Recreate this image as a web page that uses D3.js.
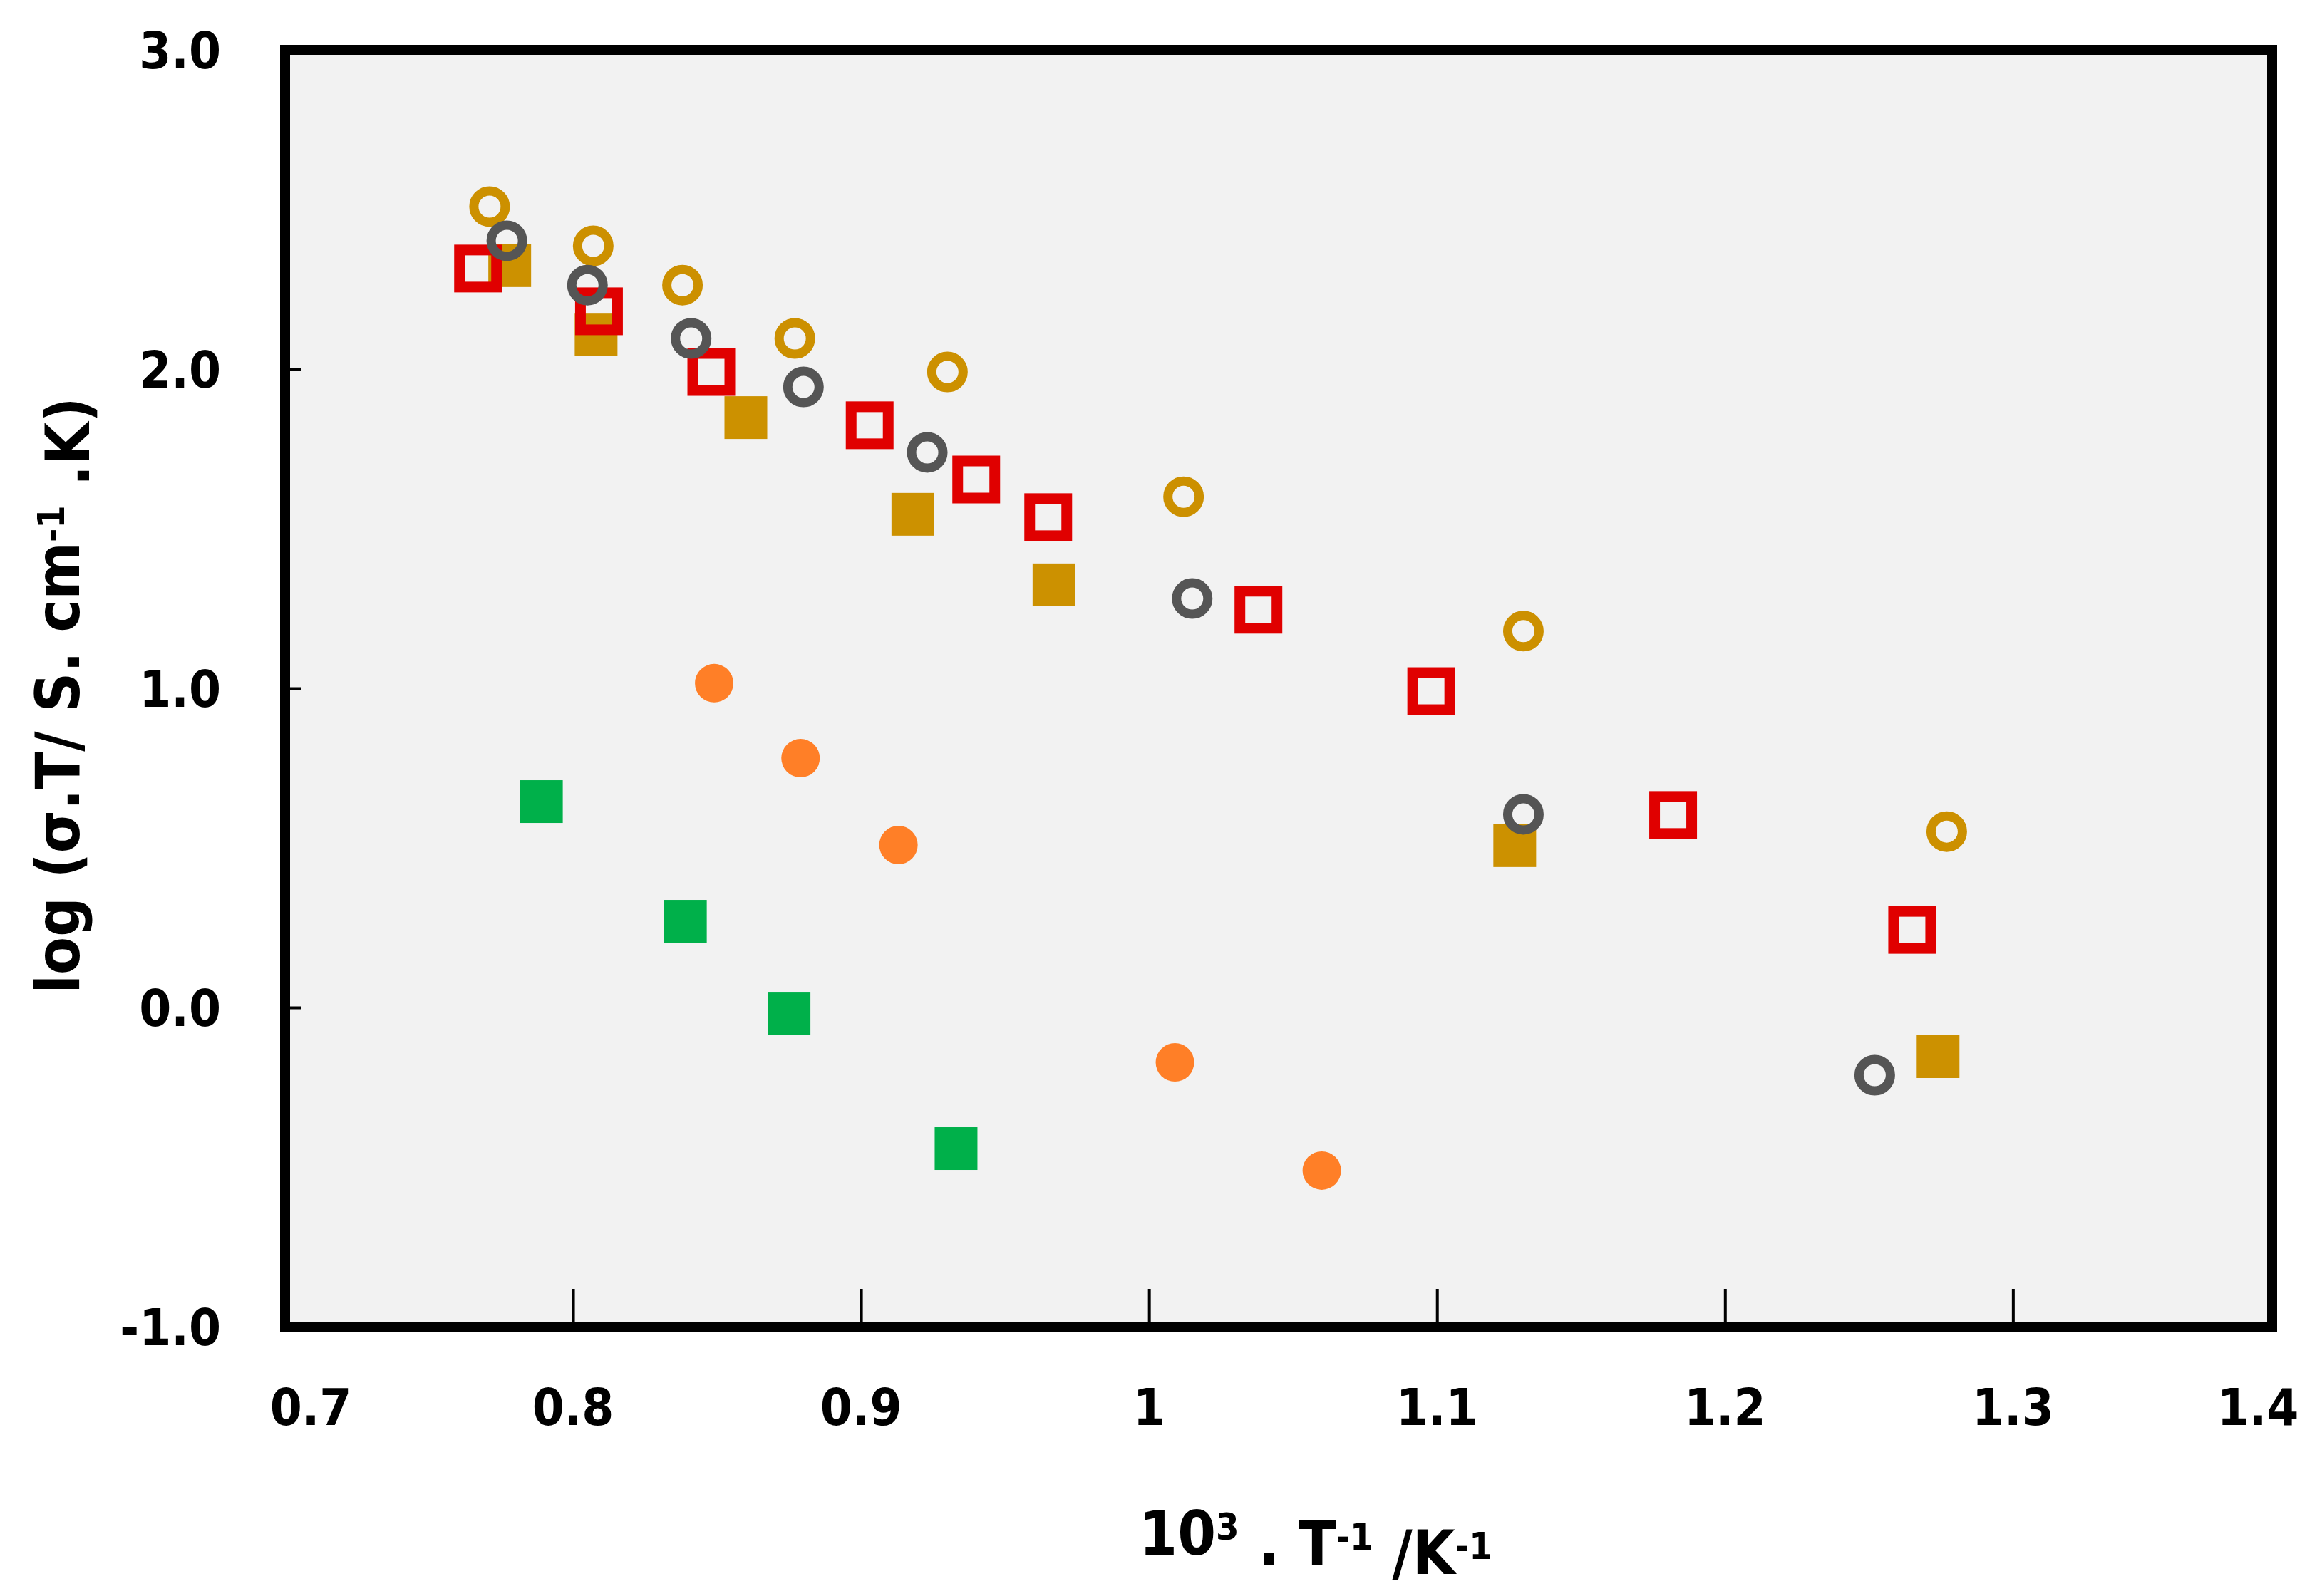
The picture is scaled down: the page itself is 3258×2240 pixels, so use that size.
<!DOCTYPE html>
<html lang="en">
<head>
    <meta charset="UTF-8">
    <title>log(σT) vs 1000/T</title>
    <script src="https://cdnjs.cloudflare.com/ajax/libs/d3/7.8.5/d3.min.js"></script>
    <style>
        body {
            margin: 0;
            background: #ffffff;
        }
        .tick-label, .axis-title {
            font-family: 'DejaVu Sans Condensed', 'DejaVu Sans', sans-serif;
            font-stretch: condensed;
            font-weight: bold;
            fill: #000;
        }
    </style>
</head>
<body>
    <div id="chart"></div>

    <script>
        // Axis ticks
        const xTickValues = [0.7, 0.8, 0.9, 1.0, 1.1, 1.2, 1.3, 1.4];
        const xTickLabels = ["0.7", "0.8", "0.9", "1", "1.1", "1.2", "1.3", "1.4"];
        const yTickValues = [-1, 0, 1, 2, 3];
        const yTickLabels = ["-1.0", "0.0", "1.0", "2.0", "3.0"];

        // Series (x = 10^3/T, y = log(sigma.T))
        const goldSquareX = [0.778, 0.808, 0.860, 0.918, 0.967, 1.127, 1.274];
        const goldSquareY = [2.324, 2.109, 1.848, 1.545, 1.324, 0.507, -0.154];

        const redSquareX = [0.767, 0.809, 0.848, 0.903, 0.940, 0.965, 1.038, 1.098, 1.182, 1.265];
        const redSquareY = [2.315, 2.181, 1.991, 1.824, 1.654, 1.536, 1.246, 0.991, 0.603, 0.243];

        const orangeDotX = [0.849, 0.879, 0.913, 1.009, 1.060];
        const orangeDotY = [1.016, 0.781, 0.509, -0.172, -0.511];

        const greenSquareX = [0.789, 0.839, 0.875, 0.933];
        const greenSquareY = [0.645, 0.270, -0.018, -0.442];

        const goldCircleX = [0.771, 0.807, 0.838, 0.877, 0.930, 1.012, 1.130, 1.277];
        const goldCircleY = [2.509, 2.386, 2.263, 2.096, 1.991, 1.600, 1.179, 0.551];

        const grayCircleX = [0.777, 0.805, 0.841, 0.880, 0.923, 1.015, 1.130, 1.252];
        const grayCircleY = [2.402, 2.263, 2.096, 1.944, 1.739, 1.281, 0.605, -0.212];

        const W = 3258, H = 2240;
        const plotL = 400, plotR = 3188, plotT = 70, plotB = 1862;

        const svg = d3.select("#chart").append("svg")
            .attr("width", W)
            .attr("height", H);

        svg.append("rect").attr("width", W).attr("height", H).attr("fill", "#fff");

        const x = d3.scaleLinear().domain([0.7, 1.39]).range([plotL, plotR]);
        const y = d3.scaleLinear().domain([-1, 3]).range([plotB, plotT]);

        // plot area
        svg.append("rect")
            .attr("x", plotL).attr("y", plotT)
            .attr("width", plotR - plotL).attr("height", plotB - plotT)
            .attr("fill", "#f2f2f2");

        // inward tick marks
        const xAxis = svg.append("g")
            .attr("transform", `translate(0,${plotB})`)
            .call(d3.axisBottom(x).tickValues(xTickValues.filter(v => x(v) < plotR)).tickSize(-53).tickFormat(""));
        xAxis.select(".domain").remove();
        xAxis.selectAll(".tick line").attr("stroke", "#000").attr("stroke-width", 4);

        const yAxis = svg.append("g")
            .attr("transform", `translate(${plotL},0)`)
            .call(d3.axisLeft(y).tickValues(yTickValues).tickSize(-23).tickFormat(""));
        yAxis.select(".domain").remove();
        yAxis.selectAll(".tick line").attr("stroke", "#000").attr("stroke-width", 4);

        // tick labels
        svg.selectAll(".xlab")
            .data(xTickValues)
            .enter().append("text")
            .attr("class", "tick-label")
            .attr("x", d => Math.min(Math.max(x(d), plotL + 36), plotR - 20))
            .attr("y", 2000)
            .attr("text-anchor", "middle")
            .style("font-size", "72px")
            .text((d, i) => xTickLabels[i]);

        svg.selectAll(".ylab")
            .data(yTickValues)
            .enter().append("text")
            .attr("class", "tick-label")
            .attr("x", 310)
            .attr("y", d => y(d))
            .attr("dy", "0.36em")
            .attr("text-anchor", "end")
            .style("font-size", "72px")
            .text((d, i) => yTickLabels[i]);

        // markers
        const plot = svg.append("g");

        function squares(xs, ys, size, opts) {
            plot.selectAll(null)
                .data(xs)
                .enter().append("rect")
                .attr("x", (d) => x(d) - size / 2)
                .attr("y", (d, i) => y(ys[i]) - size / 2)
                .attr("width", size)
                .attr("height", size)
                .attr("fill", opts.fill)
                .attr("stroke", opts.stroke || "none")
                .attr("stroke-width", opts.sw || 0);
        }

        function circles(xs, ys, r, opts) {
            plot.selectAll(null)
                .data(xs)
                .enter().append("circle")
                .attr("cx", (d) => x(d))
                .attr("cy", (d, i) => y(ys[i]))
                .attr("r", r)
                .attr("fill", opts.fill)
                .attr("stroke", opts.stroke || "none")
                .attr("stroke-width", opts.sw || 0);
        }

        squares(goldSquareX, goldSquareY, 60, { fill: "#cc9100" });
        squares(redSquareX, redSquareY, 52, { fill: "none", stroke: "#e00000", sw: 15 });
        circles(orangeDotX, orangeDotY, 27, { fill: "#ff7f27" });
        squares(greenSquareX, greenSquareY, 60, { fill: "#00b04a" });
        circles(goldCircleX, goldCircleY, 22, { fill: "none", stroke: "#cc9000", sw: 13 });
        circles(grayCircleX, grayCircleY, 22, { fill: "none", stroke: "#555555", sw: 13 });

        // frame
        svg.append("rect")
            .attr("x", plotL).attr("y", plotT)
            .attr("width", plotR - plotL).attr("height", plotB - plotT)
            .attr("fill", "none")
            .attr("stroke", "#000")
            .attr("stroke-width", 14);

        // axis titles
        const xt = svg.append("text")
            .attr("class", "axis-title")
            .attr("x", 1846)
            .attr("y", 2182)
            .attr("text-anchor", "middle")
            .style("font-size", "86px");
        xt.append("tspan").text("10");
        xt.append("tspan").attr("dy", "-0.4em").style("font-size", "52px").text("3");
        xt.append("tspan").attr("dy", "0.4em").text(" . T");
        xt.append("tspan").attr("dy", "-0.4em").style("font-size", "52px").text("-1");
        xt.append("tspan").attr("dy", "0.4em").text(" /K");
        xt.append("tspan").attr("dy", "-0.4em").style("font-size", "52px").text("-1");

        const yt = svg.append("text")
            .attr("class", "axis-title")
            .attr("transform", "translate(111,976) rotate(-90)")
            .attr("text-anchor", "middle")
            .style("font-size", "86px");
        yt.append("tspan").text("log (σ.T/ S. cm");
        yt.append("tspan").attr("dy", "-0.4em").style("font-size", "52px").text("-1");
        yt.append("tspan").attr("dy", "0.4em").text(" .K)");
    </script>
</body>
</html>
